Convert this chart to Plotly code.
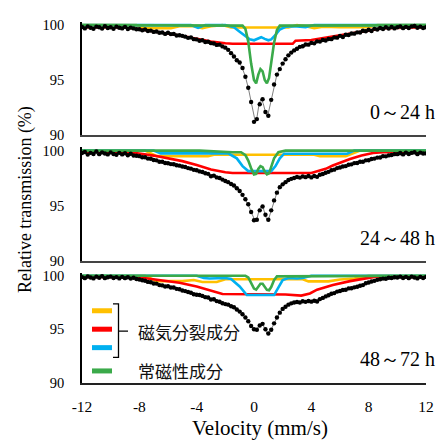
import numpy as np
import plotly.graph_objects as go

# ---------------- data ----------------
# measured channels (-12 ... 12 mm/s, 0.2 mm/s step)
velocity = np.linspace(-12, 12, 121)

trans_0_24 = [
    99.82, 99.7, 99.88, 99.76, 99.66, 99.86, 99.8, 99.68, 99.9, 99.74,
    99.8, 99.66, 99.86, 99.76, 99.7, 99.84, 99.64, 99.77, 99.7, 99.62,
    99.62, 99.52, 99.6, 99.46, 99.5, 99.38, 99.42, 99.3, 99.32, 99.2,
    99.3, 99.18, 99.2, 99.06, 99.08, 99.02, 98.95, 98.84, 98.88, 98.72,
    98.7, 98.58, 98.62, 98.46, 98.48, 98.36, 98.32, 98.2, 98.22, 98.06,
    97.95, 97.75, 97.45, 97.15, 96.8, 96.6, 96.1, 95.3, 94.3, 93.0,
    91.2, 91.45, 92.8, 93.25, 92.1, 91.75, 93.2, 94.6, 95.5, 96.0,
    96.5, 96.9, 97.25, 97.5, 97.7, 97.85, 98.02, 98.08, 98.24, 98.22,
    98.38, 98.34, 98.52, 98.5, 98.64, 98.6, 98.74, 98.72, 98.88, 98.86,
    99.02, 98.92, 99.12, 99.1, 99.24, 99.22, 99.34, 99.32, 99.48, 99.44,
    99.58, 99.46, 99.66, 99.6, 99.74, 99.64, 99.8, 99.68, 99.82, 99.7,
    99.8, 99.88, 99.72, 99.84, 99.74, 99.88, 99.92, 99.76, 99.86, 99.74,
    99.8,
]
trans_24_48 = [
    99.78, 99.88, 99.64, 99.8, 99.7, 99.92, 99.68, 99.84, 99.74, 99.66,
    99.84, 99.7, 99.62, 99.8, 99.66, 99.76, 99.58, 99.72, 99.56, 99.54,
    99.5, 99.4, 99.4, 99.28, 99.27, 99.15, 99.12, 99.0, 99.0, 98.88,
    98.86, 98.78, 98.77, 98.68, 98.64, 98.56, 98.52, 98.42, 98.37, 98.26,
    98.22, 98.12, 98.07, 97.95, 97.9, 97.68, 97.74, 97.58, 97.52, 97.38,
    97.25, 97.15, 96.98, 96.85, 96.6, 96.35, 96.0, 95.6, 95.15, 94.45,
    93.7, 93.75, 94.6, 94.95, 94.2, 93.75, 94.6, 95.5, 96.2, 96.7,
    96.95, 97.15, 97.35, 97.45, 97.52, 97.62, 97.56, 97.67, 97.6, 97.7,
    97.58, 97.7, 97.63, 97.82, 97.88, 98.0, 98.08, 98.22, 98.28, 98.42,
    98.48, 98.57, 98.6, 98.72, 98.76, 98.87, 98.88, 99.0, 99.0, 99.12,
    99.13, 99.24, 99.28, 99.37, 99.38, 99.5, 99.48, 99.57, 99.6, 99.68,
    99.68, 99.78, 99.66, 99.82, 99.7, 99.8, 99.86, 99.68, 99.82, 99.74,
    99.75,
]
trans_48_72 = [
    99.88, 99.78, 99.94, 99.84, 99.76, 99.92, 99.82, 99.96, 99.78, 99.87,
    99.92, 99.8, 99.88, 99.76, 99.9, 99.78, 99.86, 99.74, 99.82, 99.7,
    99.66, 99.58, 99.54, 99.43, 99.4, 99.28, 99.27, 99.13, 99.1, 99.0,
    99.02, 98.9, 98.9, 98.78, 98.74, 98.63, 98.57, 98.48, 98.42, 98.28,
    98.22, 98.2, 98.12, 98.0, 97.97, 97.78, 97.8, 97.63, 97.57, 97.43,
    97.35, 97.3, 97.15, 97.05, 96.85, 96.65, 96.4, 96.1, 95.75, 95.3,
    95.0, 94.95, 95.35, 95.5, 95.0, 94.6, 94.95, 95.55, 96.1, 96.55,
    96.9, 97.1, 97.3, 97.42, 97.5, 97.55, 97.5, 97.62, 97.56, 97.64,
    97.58, 97.67, 97.6, 97.82, 97.93, 98.07, 98.18, 98.32, 98.38, 98.52,
    98.58, 98.67, 98.7, 98.82, 98.83, 98.92, 98.98, 99.07, 99.13, 99.3,
    99.38, 99.47, 99.53, 99.62, 99.68, 99.74, 99.73, 99.82, 99.8, 99.87,
    99.84, 99.92, 99.8, 99.9, 99.78, 99.92, 99.84, 99.76, 99.9, 99.8,
    99.9,
]

# fitted envelope (sum of components)
total_v = [-12, -9, -8, -7, -6, -5, -4, -3, -2, -1.6, -1.2, -1.0, -0.8, -0.6, -0.4,
           -0.2, 0, 0.1, 0.2, 0.35, 0.5, 0.65, 0.8, 0.9, 1.0, 1.2, 1.4, 1.6, 1.8, 2.0,
           2.3, 2.6, 3, 4, 5, 6, 7, 8, 9, 12]
total_0_24 = [99.8, 99.75, 99.6, 99.45, 99.28, 99.05, 98.68, 98.4, 97.95, 97.55,
              96.85, 96.55, 96.05, 95.3, 94.3, 92.95, 91.5, 91.15, 91.55, 92.8,
              93.3, 92.85, 92.05, 91.75, 92.0, 93.2, 94.6, 95.5, 96.05, 96.5,
              97.1, 97.5, 97.85, 98.35, 98.65, 99.0, 99.3, 99.55, 99.7, 99.8]
total_24_48 = [99.75, 99.7, 99.5, 99.2, 98.85, 98.6, 98.2, 97.72, 97.25, 96.95,
               96.6, 96.35, 96.0, 95.6, 95.1, 94.45, 93.8, 93.6, 93.8, 94.6,
               95.0, 94.8, 94.1, 93.75, 93.75, 94.6, 95.5, 96.2, 96.65, 96.95,
               97.25, 97.45, 97.6, 97.65, 97.95, 98.5, 98.85, 99.15, 99.5, 99.75]
total_48_72 = [99.88, 99.85, 99.65, 99.35, 99.0, 98.65, 98.2, 97.8, 97.35, 97.12,
               96.85, 96.65, 96.4, 96.1, 95.8, 95.35, 95.0, 94.9, 95.0, 95.35,
               95.5, 95.35, 94.9, 94.65, 94.6, 94.95, 95.55, 96.1, 96.55, 96.9,
               97.25, 97.45, 97.55, 97.62, 98.05, 98.6, 98.95, 99.4, 99.75, 99.88]

# components, 0-24 h
orange1_v = [-12, -8.2, -7.6, -5.8, -5.2, -4.2, -3.6, -3.0, -2.2, -1.6, 2.4, 3.0, 3.6, 4.2, 4.8, 6.0, 8.0, 8.6, 12]
orange1 = [100, 100, 99.72, 99.72, 99.9, 99.9, 99.72, 99.9, 100, 99.78, 99.78, 100, 99.9, 99.72, 99.85, 99.8, 99.8, 100, 100]
red1_v = [-12, -9, -8, -7, -6, -5, -4, -3, -2, -1.5, 2.7, 2.9, 4, 5, 6, 7, 8, 9, 12]
red1 = [99.8, 99.78, 99.65, 99.45, 99.2, 99.0, 98.75, 98.5, 98.35, 98.3, 98.3, 98.58, 98.65, 98.85, 99.05, 99.25, 99.5, 99.72, 99.8]
blue1_v = [-12, -4.4, -3.9, -3.4, -2.0, -1.4, -1.0, -0.6, -0.3, 0.0, 0.25, 0.5, 0.75, 1.0, 1.2, 1.5, 1.8, 2.2, 2.8, 3.6, 4.2, 12]
blue1 = [100, 100, 99.75, 100, 100, 99.8, 99.4, 98.95, 98.7, 98.62, 98.75, 98.9, 98.75, 98.62, 98.7, 99.1, 99.6, 99.85, 99.9, 99.8, 100, 100]
green1_v = [-12, -0.8, -0.6, -0.4, -0.2, 0.0, 0.15, 0.3, 0.45, 0.6, 0.75, 0.9, 1.05, 1.2, 1.4, 1.6, 1.8, 12]
green1 = [100, 99.95, 99.65, 98.5, 96.5, 95.0, 94.7, 95.5, 96.0, 95.8, 95.0, 94.7, 95.2, 96.5, 98.4, 99.55, 99.95, 100]

# components, 24-48 h
orange2_v = [-12, -7.6, -6.8, -3.2, -2.8, 4.2, 4.6, 6.4, 7.4, 12]
orange2 = [100, 100, 99.5, 99.5, 99.62, 99.62, 99.5, 99.5, 100, 100]
red2_v = [-12, -9, -8.4, -7, -6, -5, -4, -3, -2, -1.5, 4.0, 5.0, 5.5, 6.0, 6.7, 7.5, 8.3, 9, 12]
red2 = [99.85, 99.85, 99.8, 99.55, 99.3, 99.05, 98.7, 98.3, 98.05, 97.98, 97.98, 98.35, 98.65, 98.9, 99.25, 99.55, 99.78, 99.85, 99.85]
blue2_v = [-12, -7, -6.5, -1.8, -1.2, -0.8, -0.4, 1.2, 1.5, 1.8, 2.1, 6.5, 7, 12]
blue2 = [100, 100, 99.75, 99.75, 99.3, 98.6, 98.15, 98.15, 98.6, 99.3, 99.72, 99.72, 100, 100]
green2_v = [-12, -3.8, -1.5, -0.9, -0.6, -0.4, -0.2, 0.0, 0.15, 0.3, 0.45, 0.6, 0.75, 0.9, 1.05, 1.2, 1.4, 1.7, 2.2, 12]
green2 = [100, 100, 99.85, 99.85, 99.6, 99.1, 98.4, 97.85, 97.9, 98.35, 98.6, 98.5, 98.1, 97.85, 97.95, 98.5, 99.3, 99.85, 100, 100]

# components, 48-72 h
orange3_v = [-12, -7.6, -6.8, -5.0, -4.2, -3.6, -2.6, -2.0, 3.4, 3.8, 5.2, 6.0, 7.0, 8.0, 12]
orange3 = [100, 100, 99.5, 99.5, 99.6, 99.42, 99.42, 99.68, 99.68, 99.48, 99.48, 99.65, 99.75, 100, 100]
red3_v = [-12, -8.4, -7.7, -6.5, -5.2, -4, -3, -2.2, 2.2, 3.3, 3.9, 4.4, 5.5, 6.7, 8.4, 12]
red3 = [99.9, 99.9, 99.8, 99.6, 99.35, 99.0, 98.65, 98.3, 98.25, 98.15, 98.35, 98.7, 99.15, 99.5, 99.9, 99.9]
blue3_v = [-12, -4, -3.5, -3.1, -2.0, -1.6, -1.0, -0.5, 1.4, 1.7, 2.0, 2.4, 3.0, 3.4, 4, 12]
blue3 = [100, 100, 99.8, 99.75, 99.8, 99.7, 99.0, 98.2, 98.2, 98.9, 99.6, 99.8, 99.75, 99.8, 100, 100]
green3_v = [-12, -0.6, -0.4, -0.2, 0.0, 0.15, 0.3, 0.45, 0.6, 0.75, 0.9, 1.05, 1.2, 1.4, 1.6, 12]
green3 = [100, 100, 99.85, 99.3, 98.8, 98.7, 99.0, 99.25, 99.25, 98.95, 98.68, 98.65, 98.95, 99.6, 99.95, 100]

panel_labels = ["0～24 h", "24～48 h", "48～72 h"]
x_ticks = [-12, -8, -4, 0, 4, 8, 12]
y_ticks = [90, 95, 100]
legend_labels = ["磁気分裂成分", "常磁性成分"]

# ---------------- styling ----------------
C_ORANGE, C_RED, C_BLUE, C_GREEN = "#FFC000", "#FF0000", "#00B0F0", "#3BAA4A"
SERIF = "Liberation Serif"
CJK = "Noto Sans CJK JP"

W, H = 444, 443
L, R = 82, 18
def px_x(p):
    return (p - L) / (W - L - R)
def px_y(p):
    return 1 - p / H

panels = [
    (trans_0_24, total_0_24, [(orange1_v, orange1, C_ORANGE), (red1_v, red1, C_RED),
                              (blue1_v, blue1, C_BLUE), (green1_v, green1, C_GREEN)]),
    (trans_24_48, total_24_48, [(orange2_v, orange2, C_ORANGE), (red2_v, red2, C_RED),
                                (blue2_v, blue2, C_BLUE), (green2_v, green2, C_GREEN)]),
    (trans_48_72, total_48_72, [(orange3_v, orange3, C_ORANGE), (red3_v, red3, C_RED),
                                (blue3_v, blue3, C_BLUE), (green3_v, green3, C_GREEN)]),
]
domains_px = [(17.3, 134), (146.6, 264), (275.7, 389)]

fig = go.Figure()
layout = dict(width=W, height=H, margin=dict(l=L, r=R, t=0, b=0),
              paper_bgcolor="white", plot_bgcolor="white", showlegend=False,
              font=dict(family=SERIF, color="black"))

for i, (dots, total, comps) in enumerate(panels, start=1):
    xa = "x" if i == 1 else f"x{i}"
    ya = "y" if i == 1 else f"y{i}"
    for vv, yy, col in comps:
        fig.add_trace(go.Scatter(x=vv, y=yy, mode="lines", line=dict(color=col, width=2.6),
                                 xaxis=xa, yaxis=ya, hoverinfo="skip"))
    fig.add_trace(go.Scatter(x=total_v, y=total, mode="lines", line=dict(color="#7f7f7f", width=1),
                             xaxis=xa, yaxis=ya, hoverinfo="skip"))
    fig.add_trace(go.Scatter(x=velocity, y=dots, mode="markers",
                             marker=dict(color="black", size=4.4, line=dict(width=0)),
                             xaxis=xa, yaxis=ya, hoverinfo="skip"))
    top, bot = domains_px[i - 1]
    layout["xaxis" if i == 1 else f"xaxis{i}"] = dict(
        domain=[0, 1], range=[-12, 12], anchor=ya, showgrid=False, zeroline=False,
        showline=True, linecolor="#444444" if i < 3 else "#222222", linewidth=1.6,
        tickvals=x_ticks, ticktext=[str(t) for t in x_ticks], showticklabels=(i == 3),
        ticks="outside", ticklen=9, tickcolor="rgba(0,0,0,0)",
        tickfont=dict(family=SERIF, size=15.5, color="black"))
    layout["yaxis" if i == 1 else f"yaxis{i}"] = dict(
        domain=[px_y(bot), px_y(top)], range=[90, 100.3], anchor=xa, showgrid=False,
        zeroline=False, showline=True, linecolor="black", linewidth=1.5,
        tickvals=y_ticks, ticks="outside", ticklen=13, tickcolor="rgba(0,0,0,0)",
        tickfont=dict(family=SERIF, size=14.5, color="black"))

annotations = []
label_y = [110, 240, 365]
for lab, py in zip(panel_labels, label_y):
    annotations.append(dict(text=lab, x=px_x(437), y=px_y(py), xref="paper", yref="paper",
                            xanchor="right", yanchor="middle", showarrow=False,
                            font=dict(family=SERIF, size=20, color="black")))
annotations.append(dict(text="Relative transmission (%)", x=px_x(25), y=px_y(201),
                        xref="paper", yref="paper", textangle=-90, showarrow=False,
                        xanchor="center", yanchor="middle",
                        font=dict(family=SERIF, size=18, color="black")))
annotations.append(dict(text="Velocity (mm/s)", x=px_x(260), y=px_y(435.5),
                        xref="paper", yref="paper", showarrow=False, borderpad=0,
                        xanchor="center", yanchor="middle",
                        font=dict(family=SERIF, size=21, color="black")))
annotations.append(dict(text=legend_labels[0], x=px_x(136), y=px_y(336), xref="paper", yref="paper",
                        xanchor="left", yanchor="middle", showarrow=False,
                        font=dict(family=CJK, size=17, color="#111111")))
annotations.append(dict(text=legend_labels[1], x=px_x(136), y=px_y(377), xref="paper", yref="paper",
                        xanchor="left", yanchor="middle", showarrow=False,
                        font=dict(family=CJK, size=17, color="#111111")))
layout["annotations"] = annotations

shapes = []
for col, py in zip([C_ORANGE, C_RED, C_BLUE, C_GREEN], [315, 334, 353, 377]):
    shapes.append(dict(type="line", xref="paper", yref="paper", x0=px_x(92), x1=px_x(112),
                       y0=px_y(py), y1=px_y(py), line=dict(color=col, width=5)))
bx0, bx1, btip = px_x(113), px_x(118.5), px_x(128)
by0, by1, bym = px_y(308), px_y(363), px_y(336)
shapes.append(dict(type="path", xref="paper", yref="paper",
                   path=f"M {bx0},{by0} L {bx1},{by0} L {bx1},{by1} L {bx0},{by1} M {bx1},{bym} L {btip},{bym}",
                   line=dict(color="black", width=1.3)))
layout["shapes"] = shapes

fig.update_layout(**layout)
fig.write_html("out.html")
